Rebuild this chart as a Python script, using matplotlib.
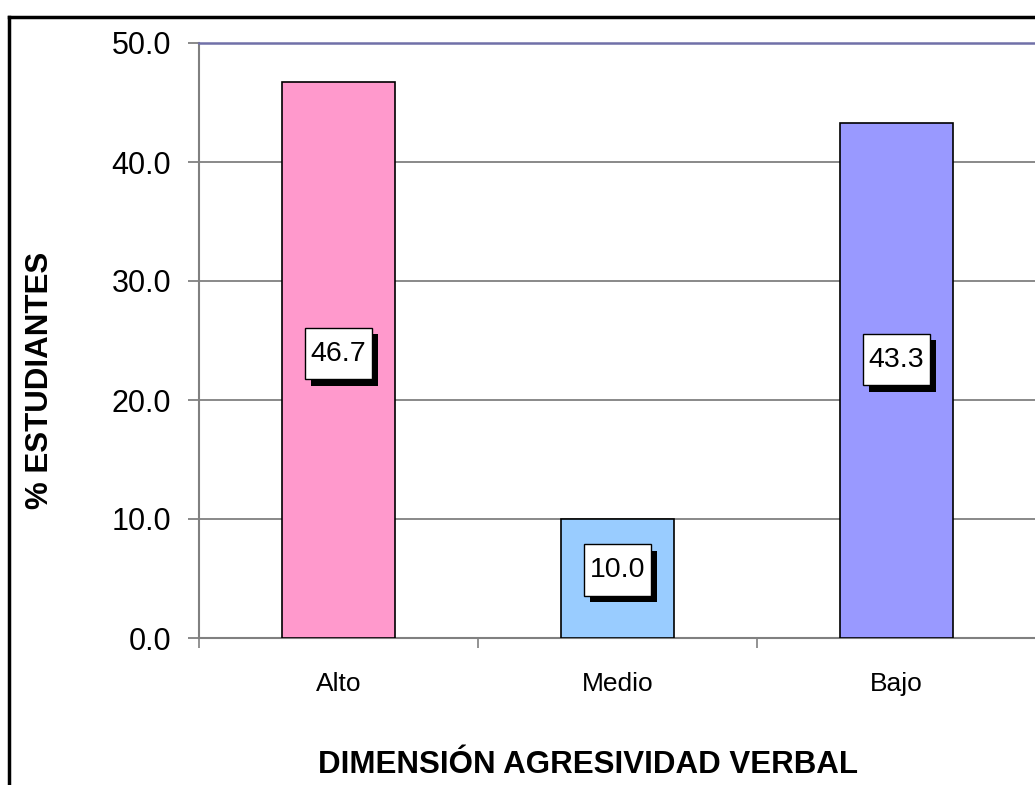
import matplotlib.pyplot as plt
import matplotlib.patheffects as pe
from matplotlib.lines import Line2D
from matplotlib.path import Path

plt.rcParams['font.family'] = ['Liberation Sans', 'DejaVu Sans']

categories = ['Alto', 'Medio', 'Bajo']
percent = [46.7, 10.0, 43.3]
colors = ['#FF99CC', '#99CCFF', '#9999FF']
yticks = [0, 10, 20, 30, 40, 50]
# vertical placement of the value boxes (as in the original, roughly mid-bar)
label_y = [23.9, 5.7, 23.4]


def label_box(x0, y0, width, height, mutation_size):
    # narrower padding left/right than top/bottom
    px = 0.2 * mutation_size
    py = 0.45 * mutation_size
    verts = [(x0 - px, y0 - py), (x0 + width + px, y0 - py),
             (x0 + width + px, y0 + height + py), (x0 - px, y0 + height + py),
             (x0 - px, y0 - py)]
    return Path(verts, closed=True)


fig = plt.figure(figsize=(10.35, 7.85), dpi=100)
ax = fig.add_axes([199 / 1035, 1 - 638 / 785, 837 / 1035, 595 / 785])

x = range(len(categories))
ax.bar(x, percent, width=0.405, color=colors, edgecolor='black', linewidth=1.2, zorder=3)

# value labels with shadow box
for i, v, ly in zip(x, percent, label_y):
    t = ax.text(i, ly, f'{v:.1f}', ha='center', va='center', fontsize=20.5, zorder=5,
                bbox=dict(boxstyle=label_box, facecolor='white', edgecolor='black', linewidth=1))
    t.get_bbox_patch().set_path_effects([
        pe.SimplePatchShadow(offset=(4, -4.5), shadow_rgbFace='black', alpha=1),
        pe.Normal()])

ax.set_xlim(-0.5, 2.5)
ax.set_ylim(0, 50)
ax.set_yticks(yticks)
ax.set_yticklabels([f'{t:.1f}' for t in yticks], fontsize=22)
ax.yaxis.grid(True, color='#808080', linewidth=1.3, zorder=0)

ax.set_xticks([-0.5, 0.5, 1.5, 2.5])
ax.set_xticklabels([])
ax.tick_params(axis='x', length=7, color='#808080', width=1.2)
ax.tick_params(axis='y', length=8, color='#808080', width=1.3, pad=12)
for i, c in zip(x, categories):
    ax.text(i, -3.9, c, ha='center', va='center', fontsize=19)

for s in ['left', 'bottom']:
    ax.spines[s].set_color('#808080')
    ax.spines[s].set_linewidth(1.5)
ax.spines['top'].set_color('#7070A8')
ax.spines['top'].set_linewidth(1.8)
ax.spines['right'].set_visible(False)

fig.text(40 / 1035, 1 - 380 / 785, '% ESTUDIANTES', rotation=90, ha='center', va='center',
         fontsize=22.5, fontweight='bold')
fig.text(588 / 1035, 1 - 765 / 785, 'DIMENSIÓN AGRESIVIDAD VERBAL', ha='center', va='center',
         fontsize=22.5, fontweight='bold')

# outer chart border (cut off at right and bottom)
fig.add_artist(Line2D([9 / 1035, 9 / 1035], [0, 1 - 17 / 785], color='black', linewidth=2.5,
                      transform=fig.transFigure))
fig.add_artist(Line2D([9 / 1035, 1], [1 - 17 / 785, 1 - 17 / 785], color='black', linewidth=2.5,
                      transform=fig.transFigure))

fig.savefig('out.png', dpi=100)
